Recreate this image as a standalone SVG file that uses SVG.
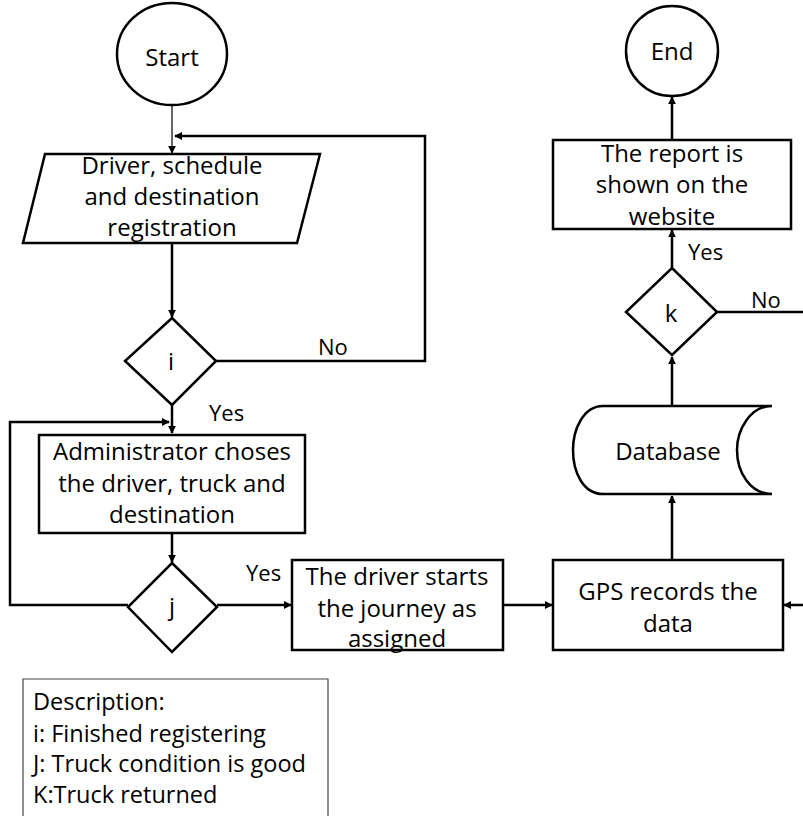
<svg xmlns="http://www.w3.org/2000/svg" width="803" height="816" viewBox="0 0 803 816">
<defs>
<style>
.s{fill:#fff;stroke:#000;stroke-width:2.5}
.t{font-family:"Open Sans","Noto Sans",sans-serif;font-size:24px;fill:#000;text-anchor:middle}
.l{font-family:"Open Sans","Noto Sans",sans-serif;font-size:22px;fill:#000}
.d{font-family:"Open Sans","Noto Sans",sans-serif;font-size:23.5px;fill:#000}
.c{fill:none;stroke:#000;stroke-width:2.5}
.thin{fill:none;stroke:#000;stroke-width:1.2}
</style>
<marker id="b" viewBox="0 0 10 10" refX="9" refY="5" markerWidth="8" markerHeight="8" orient="auto" markerUnits="userSpaceOnUse"><path d="M0,0L10,5L0,10z" fill="#000"/></marker>
</defs>
<rect width="803" height="816" fill="#fff"/>
<g id="connectors">
<path class="thin" d="M172,105V153" marker-end="url(#b)"/>
<path class="c" d="M216,361H425V136H175" marker-end="url(#b)"/>
<path class="c" d="M172,243V317" marker-end="url(#b)"/>
<path class="c" d="M172,405V433" marker-end="url(#b)"/>
<path class="c" d="M128,605H10V422H169" marker-end="url(#b)"/>
<path class="c" d="M172,533V562" marker-end="url(#b)"/>
<path class="c" d="M217,605H291" marker-end="url(#b)"/>
<path class="c" d="M503,605H552" marker-end="url(#b)"/>
<path class="c" d="M803,605H784" marker-end="url(#b)"/>
<path class="c" d="M672,560V496" marker-end="url(#b)"/>
<path class="c" d="M672,406V357" marker-end="url(#b)"/>
<path class="c" d="M672,268V230" marker-end="url(#b)"/>
<path class="c" d="M672,140V97" marker-end="url(#b)"/>
<path class="c" d="M717,312H803"/>
<text class="l" x="318" y="355">No</text>
<text class="l" x="209" y="421">Yes</text>
<text class="l" x="246" y="581">Yes</text>
<text class="l" x="688" y="260">Yes</text>
<text class="l" x="751" y="308">No</text>
</g>
<g id="start">
<ellipse class="s" cx="172" cy="54" rx="55" ry="51"/>
<text class="t" x="172" y="66">Start</text>
</g>
<g id="registration">
<path class="s" d="M45,154H320L297,243H23z"/>
<text class="t" x="172" y="174" font-size="23">Driver, schedule</text>
<text class="t" x="172" y="205" font-size="23">and destination</text>
<text class="t" x="172" y="236" font-size="23">registration</text>
</g>
<g id="decision-i">
<path class="s" d="M172,318L216,361L172,405L125,361z"/>
<text class="t" x="171" y="370">i</text>
</g>
<g id="administrator">
<rect class="s" x="39" y="435" width="266" height="98"/>
<text class="t" x="172" y="460">Administrator choses</text>
<text class="t" x="172" y="492">the driver, truck and</text>
<text class="t" x="172" y="523">destination</text>
</g>
<g id="decision-j">
<path class="s" d="M172,563L217,607L172,652L128,607z"/>
<text class="t" x="172" y="615">j</text>
</g>
<g id="journey">
<rect class="s" x="292" y="560" width="211" height="90"/>
<text class="t" x="397" y="585">The driver starts</text>
<text class="t" x="397" y="617">the journey as</text>
<text class="t" x="397" y="647">assigned</text>
</g>
<g id="gps">
<rect class="s" x="553" y="560" width="230" height="90"/>
<text class="t" x="668" y="600">GPS records the</text>
<text class="t" x="668" y="632">data</text>
</g>
<g id="database">
<path class="s" d="M772,406H603C583,406 573,430 573,450C573,472 583,494 603,494H772C750,494 737,472 737,450C737,430 750,406 772,406z"/>
<text class="t" x="668" y="460">Database</text>
</g>
<g id="decision-k">
<path class="s" d="M672,268L717,312L672,355L626,312z"/>
<text class="t" x="671" y="322">k</text>
</g>
<g id="report">
<rect class="s" x="553" y="140" width="238" height="89"/>
<text class="t" x="672" y="162">The report is</text>
<text class="t" x="672" y="193">shown on the</text>
<text class="t" x="672" y="225">website</text>
</g>
<g id="end">
<ellipse class="s" cx="672" cy="51" rx="46" ry="45"/>
<text class="t" x="672" y="60">End</text>
</g>
<g id="description">
<path d="M23,816V679H328V816" fill="#fff" stroke="#444" stroke-width="1.2"/>
<text class="d" x="33" y="710">Description:</text>
<text class="d" x="33" y="742">i: Finished registering</text>
<text class="d" x="33" y="772">J: Truck condition is good</text>
<text class="d" x="33" y="803">K:Truck returned</text>
</g>
</svg>
